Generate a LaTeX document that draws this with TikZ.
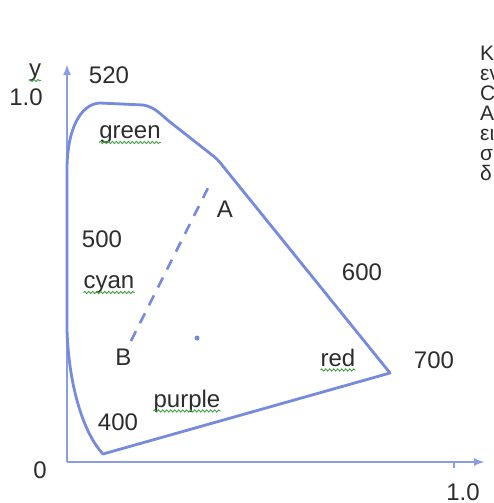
\documentclass[tikz,border=0pt]{standalone}
\usepackage{fontspec}
\setmainfont{Liberation Sans}
\usetikzlibrary{arrows.meta,decorations.pathmorphing}
\definecolor{locus}{RGB}{118,138,222}
\definecolor{axiscol}{RGB}{138,158,228}
\definecolor{txt}{RGB}{45,45,45}
\definecolor{squig}{RGB}{70,160,70}
\begin{document}
\begin{tikzpicture}[x=1pt,y=-1pt,
  lbl/.style={font=\fontsize{24}{28}\selectfont, text=txt, inner sep=0pt, anchor=base},
  grk/.style={font=\fontsize{21}{24}\selectfont, text=txt, inner sep=0pt, anchor=base west},
  squiggle/.style={draw=squig, line width=0.9pt, decorate,
    decoration={snake, amplitude=1.1pt, segment length=4pt}},
  axisline/.style={draw=axiscol, line width=2.2pt, -{Latex[length=11pt,width=8pt]}},
  locusline/.style={draw=locus, line width=2.8pt, line join=round},
  dashline/.style={draw=locus, line width=2.6pt, dash pattern=on 11pt off 9pt}]
\useasboundingbox[fill=white] (0,0) rectangle (494,503);

% axes
\coordinate (O) at (67,462);
\coordinate (ytip) at (67,64);
\coordinate (xtip) at (485,462);
\draw[axisline] (O) -- (ytip);
\draw[axisline] (O) -- (xtip);
\draw[draw=axiscol, line width=1.5pt] (454,462) -- (454,468);

% spectral locus
\draw[locusline] (103,454) .. controls (85,435) and (69,390) .. (67,330)
  -- (67,170) .. controls (67,130) and (80,104) .. (100,103)
  -- (143,105) .. controls (155,107) and (160,114) .. (170,122)
  -- (212,155) .. controls (216,158) and (219,161) .. (222,165)
  -- (390,373) -- cycle;

% dashed line and point
\coordinate (Aend) at (209,186);
\coordinate (Bend) at (131,341);
\draw[dashline] (Bend) -- (Aend);
\fill[locus] (197,338) circle (2.5pt);

% labels
\node[lbl] (ny) at (35,76) {y};
\node[lbl] (n10y) at (26,105) {1.0};
\node[lbl] (n0) at (40,478) {0};
\node[lbl] (n10x) at (463,500) {1.0};
\node[lbl] (n520) at (109,83) {520};
\node[lbl] (ngreen) at (130,138) {green};
\node[lbl] (n500) at (102,247) {500};
\node[lbl] (ncyan) at (109,288) {cyan};
\node[lbl] (nA) at (225,217) {A};
\node[lbl] (nB) at (123.5,365) {B};
\node[lbl] (n400) at (118,430) {400};
\node[lbl] (npurple) at (187,407) {purple};
\node[lbl] (n600) at (362,280) {600};
\node[lbl] (nred) at (338,366) {red};
\node[lbl] (n700) at (434,368) {700};

% spell-check squiggles
\draw[squiggle] ([yshift=-4.5pt]ny.base west) -- ([yshift=-4.5pt]ny.base east);
\draw[squiggle] ([yshift=-4.5pt]ngreen.base west) -- ([yshift=-4.5pt]ngreen.base east);
\draw[squiggle] ([yshift=-4.5pt]ncyan.base west) -- ([yshift=-4.5pt]ncyan.base east);
\draw[squiggle] ([yshift=-4pt]npurple.base west) -- ([yshift=-4pt]npurple.base east);
\draw[squiggle] ([yshift=-4pt]nred.base west) -- ([yshift=-4pt]nred.base east);

% cut-off text at the right edge
\node[grk] (g1) at (480,60) {Κ};
\node[grk] (g2) at (480,80) {εν};
\node[grk] (g3) at (480,100) {C};
\node[grk] (g4) at (480,120) {Α};
\node[grk] (g5) at (480,140) {ει};
\node[grk] (g6) at (480,160) {σ};
\node[grk] (g7) at (480,180) {δ};
\end{tikzpicture}
\end{document}
